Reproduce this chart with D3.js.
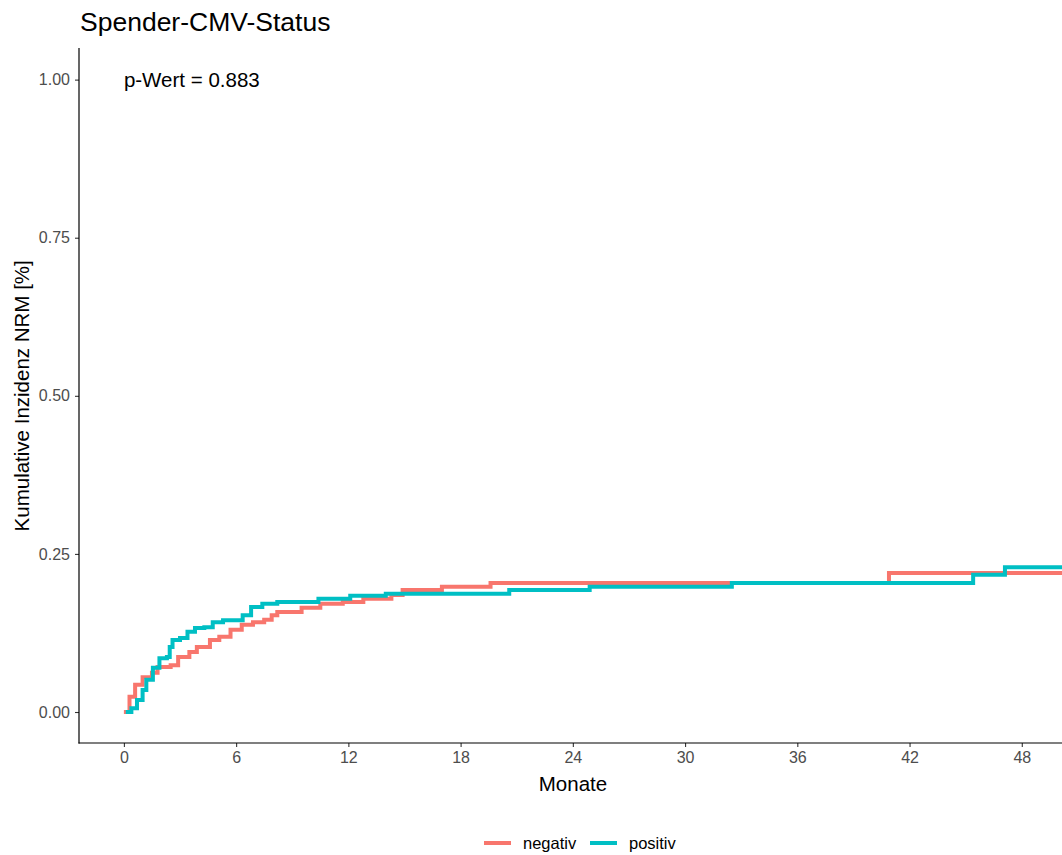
<!DOCTYPE html>
<html>
<head>
<meta charset="utf-8">
<script src="https://cdn.jsdelivr.net/npm/d3@7"></script>
<style>
  body { margin: 0; background: #fff; }
  svg { display: block; font-family: "Liberation Sans", Arial, sans-serif; }
</style>
</head>
<body>
<svg id="chart" width="1062" height="855"></svg>
<script>
// step points: [months, cumulative incidence]
const negativ = [
  [0, 0], [0.3, 0.024], [0.6, 0.043], [1.0, 0.055], [1.5, 0.062], [1.8, 0.071],
  [2.5, 0.074], [2.9, 0.087], [3.5, 0.095], [3.9, 0.103], [4.6, 0.114], [5.1, 0.119],
  [5.7, 0.130], [6.3, 0.138], [6.9, 0.142], [7.5, 0.146], [7.9, 0.153], [8.2, 0.158],
  [9.5, 0.165], [10.5, 0.171], [11.7, 0.174], [12.8, 0.179], [14.3, 0.185],
  [14.9, 0.193], [17.0, 0.198], [19.6, 0.204], [40.9, 0.220]
];
const positiv = [
  [0.1, 0], [0.4, 0.006], [0.7, 0.019], [1.0, 0.035], [1.2, 0.051], [1.55, 0.070],
  [1.9, 0.085], [2.3, 0.087], [2.45, 0.103], [2.6, 0.114], [3.0, 0.117], [3.4, 0.127],
  [3.8, 0.133], [4.3, 0.134], [4.75, 0.142], [5.3, 0.145], [6.35, 0.153], [6.8, 0.166],
  [7.4, 0.171], [8.2, 0.174], [10.4, 0.179], [12.1, 0.184], [14.0, 0.187],
  [20.6, 0.193], [24.9, 0.198], [32.5, 0.204], [45.4, 0.217], [47.1, 0.229]
];
const xTicks = [0, 6, 12, 18, 24, 30, 36, 42, 48];
const yTicks = [0, 0.25, 0.5, 0.75, 1];
const groups = ["negativ", "positiv"];
const colors = ["#F8766D", "#00BFC4"];

const svg = d3.select("#chart");
const m = { left: 79, right: 1062, top: 48, bottom: 743 };

const x = d3.scaleLinear().domain([-2.4, 50.15]).range([m.left, m.right]);
const y = d3.scaleLinear().domain([-0.049, 1.05]).range([m.bottom, m.top]);

svg.append("defs").append("clipPath").attr("id", "clip")
  .append("rect")
  .attr("x", m.left).attr("y", m.top)
  .attr("width", m.right - m.left).attr("height", m.bottom - m.top);

const line = d3.line()
  .x(d => x(d[0]))
  .y(d => y(d[1]))
  .curve(d3.curveStepAfter);

[negativ, positiv].forEach((s, i) => {
  const pts = s.concat([[x.domain()[1], s[s.length - 1][1]]]);
  svg.append("path")
    .attr("clip-path", "url(#clip)")
    .attr("d", line(pts))
    .attr("fill", "none")
    .attr("stroke", colors[i])
    .attr("stroke-width", 4);
});

// axes
const xAxis = svg.append("g")
  .attr("transform", `translate(0,${m.bottom})`)
  .call(d3.axisBottom(x).tickValues(xTicks).tickSize(4).tickPadding(5));
const yAxis = svg.append("g")
  .attr("transform", `translate(${m.left},0)`)
  .call(d3.axisLeft(y).tickValues(yTicks).tickSize(4).tickPadding(5)
    .tickFormat(d3.format(".2f")));

[xAxis, yAxis].forEach(g => {
  g.select(".domain").remove();
  g.attr("font-size", null).attr("font-family", null);
  g.selectAll(".tick line").attr("stroke", "#333").attr("stroke-width", 1.1);
  g.selectAll(".tick text")
    .attr("fill", "#4d4d4d")
    .style("font-size", "16px");
});

svg.append("line")
  .attr("x1", m.left).attr("x2", m.left)
  .attr("y1", m.top).attr("y2", m.bottom + 0.5)
  .attr("stroke", "#000").attr("stroke-width", 1.2);
svg.append("line")
  .attr("x1", m.left - 0.5).attr("x2", m.right)
  .attr("y1", m.bottom).attr("y2", m.bottom)
  .attr("stroke", "#000").attr("stroke-width", 1.2);

// texts
svg.append("text")
  .attr("x", 80).attr("y", 31)
  .style("font-size", "26.5px")
  .text("Spender-CMV-Status");

svg.append("text")
  .attr("x", x(0)).attr("y", y(1)).attr("dy", "0.35em")
  .style("font-size", "20.5px")
  .text("p-Wert = 0.883");

svg.append("text")
  .attr("x", (m.left + 1067) / 2).attr("y", 791)
  .attr("text-anchor", "middle")
  .style("font-size", "20.5px")
  .text("Monate");

svg.append("text")
  .attr("transform", `translate(29,${y(0.5)}) rotate(-90)`)
  .attr("text-anchor", "middle")
  .style("font-size", "20.5px")
  .text("Kumulative Inzidenz NRM [%]");

// legend
const legendX = [484, 590];
groups.forEach((g, i) => {
  svg.append("line")
    .attr("x1", legendX[i]).attr("x2", legendX[i] + 27)
    .attr("y1", 843).attr("y2", 843)
    .attr("stroke", colors[i]).attr("stroke-width", 4);
  svg.append("text")
    .attr("x", legendX[i] + 39).attr("y", 843).attr("dy", "0.35em")
    .style("font-size", "16.5px")
    .text(g);
});
</script>
</body>
</html>
